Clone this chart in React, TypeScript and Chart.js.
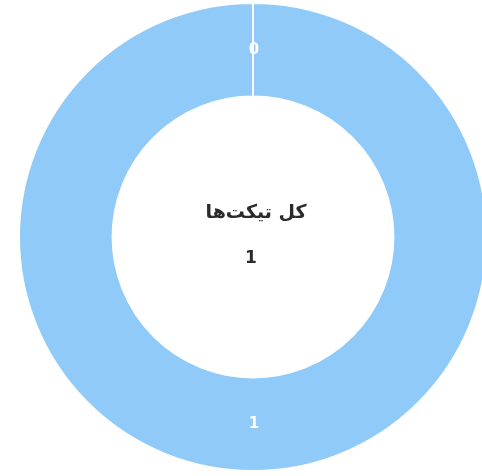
import React, { useEffect, useRef } from "react";
import { Chart, registerables } from "chart.js";

Chart.register(...registerables);

const categories = ["باز", "بسته"];
const values = [0, 1];
const colors = ["#90CAF9", "#90CAF9"];
const centerTitle = "کل تیکت‌ها";
const centerValue = "1";

const sliceLabels = {
  id: "sliceLabels",
  afterDatasetsDraw(chart: any) {
    const ctx = chart.ctx;
    const meta = chart.getDatasetMeta(0);
    ctx.save();
    ctx.fillStyle = "#ffffff";
    ctx.font = "bold 15px 'DejaVu Sans', sans-serif";
    ctx.textAlign = "center";
    ctx.textBaseline = "middle";
    meta.data.forEach((arc: any, i: number) => {
      const p = arc.tooltipPosition();
      ctx.fillText(String(chart.data.datasets[0].data[i]), p.x + 1, p.y);
    });
    ctx.restore();
  },
};

const centerText = {
  id: "centerText",
  afterDraw(chart: any) {
    const ctx = chart.ctx;
    const { left, right, top, bottom } = chart.chartArea;
    const cx = (left + right) / 2;
    const cy = (top + bottom) / 2;
    ctx.save();
    ctx.fillStyle = "#2b2b2b";
    ctx.textAlign = "center";
    ctx.textBaseline = "middle";
    ctx.font = "bold 19px 'DejaVu Sans', sans-serif";
    ctx.fillText(centerTitle, cx + 3, cy - 24);
    ctx.font = "bold 17px 'DejaVu Sans', sans-serif";
    ctx.fillText(centerValue, cx - 2, cy + 22);
    ctx.restore();
  },
};

export default function App() {
  const ref = useRef<HTMLCanvasElement>(null);
  useEffect(() => {
    if (!ref.current) return;
    const chart = new Chart(ref.current, {
      type: "doughnut",
      data: {
        labels: categories,
        datasets: [
          {
            data: values,
            backgroundColor: colors,
            borderColor: "#ffffff",
            borderWidth: 2,
          },
        ],
      },
      options: {
        animation: false,
        responsive: true,
        maintainAspectRatio: false,
        cutout: "60%",
        layout: { padding: 0 },
        plugins: {
          legend: { display: false },
          tooltip: { enabled: false },
        },
      },
      plugins: [sliceLabels, centerText],
    });
    return () => chart.destroy();
  }, []);
  return (
    <div style={{ position: "absolute", left: 18, top: 2, width: 470, height: 470 }}>
      <canvas ref={ref} />
    </div>
  );
}
